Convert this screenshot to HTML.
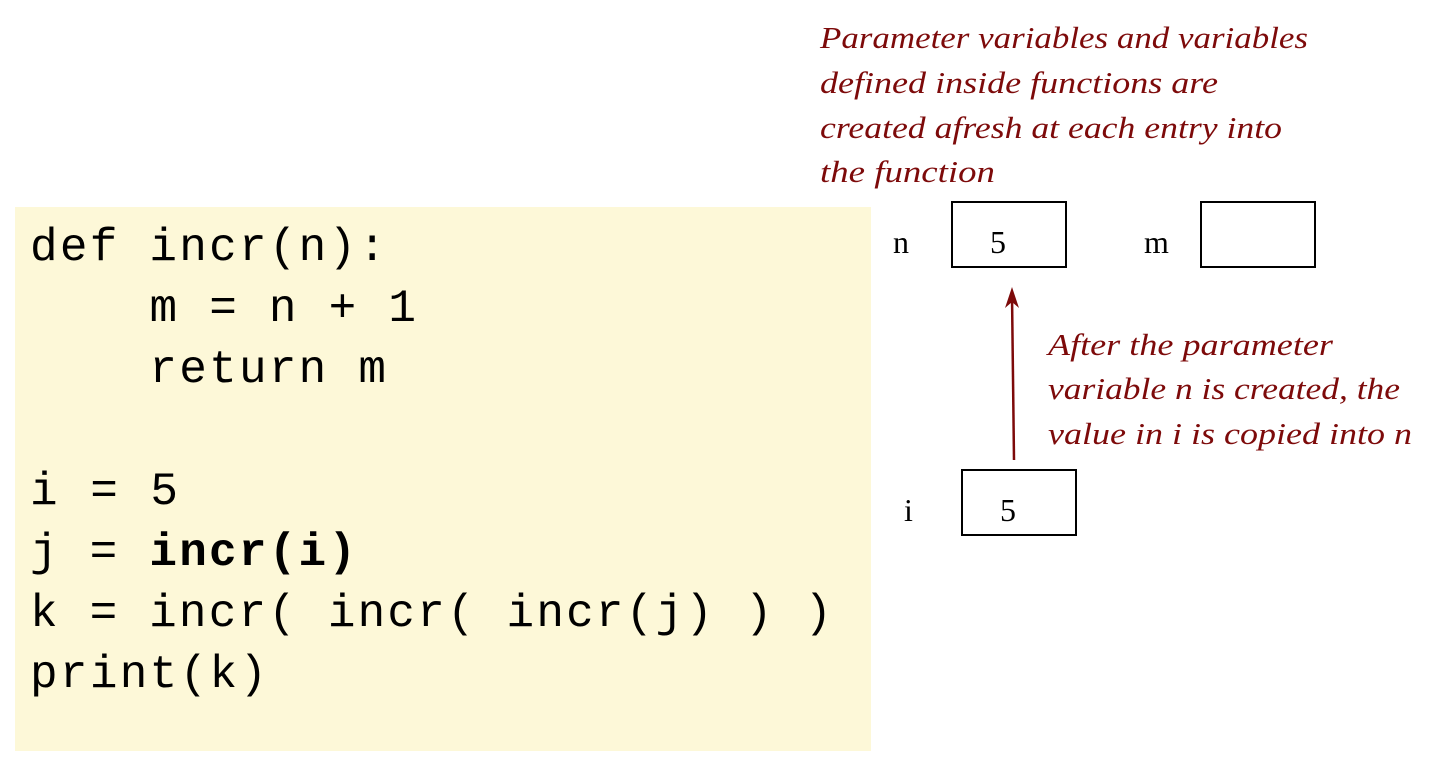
<!DOCTYPE html>
<html><head><style>
html,body{margin:0;padding:0;background:#fff;}
body{width:1452px;height:767px;position:relative;overflow:hidden;}
</style></head><body>
<svg width="1452" height="767" viewBox="0 0 1452 767" style="position:absolute;left:0;top:0">
<rect x="15" y="207" width="856" height="544" fill="#fdf8d8"/>
<g font-family="Liberation Mono, monospace" font-size="46" fill="#000" lengthAdjust="spacing">
<text x="30" y="260" xml:space="preserve" textLength="356" lengthAdjust="spacing">def incr(n):</text>
<text x="30" y="321" xml:space="preserve" textLength="386" lengthAdjust="spacing">    m = n + 1</text>
<text x="30" y="382" xml:space="preserve" textLength="356" lengthAdjust="spacing">    return m</text>
<text x="30" y="504" xml:space="preserve" textLength="148" lengthAdjust="spacing">i = 5</text>
<text x="30" y="565" xml:space="preserve" textLength="326" lengthAdjust="spacing">j = <tspan font-weight="bold">incr(i)</tspan></text>
<text x="30" y="626" xml:space="preserve" textLength="802" lengthAdjust="spacing">k = incr( incr( incr(j) ) )</text>
<text x="30" y="687" xml:space="preserve" textLength="237" lengthAdjust="spacing">print(k)</text>
</g>
<g font-family="Liberation Serif, serif" font-style="italic" font-size="31" fill="#7d0a0a">
<text x="820" y="48" textLength="488" lengthAdjust="spacingAndGlyphs">Parameter variables and variables</text>
<text x="820" y="93" textLength="398" lengthAdjust="spacingAndGlyphs">defined inside functions are</text>
<text x="820" y="138" textLength="462" lengthAdjust="spacingAndGlyphs">created afresh at each entry into</text>
<text x="820" y="182" textLength="175" lengthAdjust="spacingAndGlyphs">the function</text>
<text x="1048" y="355" textLength="285" lengthAdjust="spacingAndGlyphs">After the parameter</text>
<text x="1048" y="399" textLength="352" lengthAdjust="spacingAndGlyphs">variable n is created, the</text>
<text x="1048" y="444" textLength="364" lengthAdjust="spacingAndGlyphs">value in i is copied into n</text>
</g>
<g fill="none" stroke="#000" stroke-width="2">
<rect x="952" y="202" width="114" height="65"/>
<rect x="1201" y="202" width="114" height="65"/>
<rect x="962" y="470" width="114" height="65"/>
</g>
<g font-family="Liberation Serif, serif" font-size="32" fill="#000">
<text x="893" y="253">n</text>
<text x="1144" y="253">m</text>
<text x="904" y="521">i</text>
<text x="990" y="253">5</text>
<text x="1000" y="521">5</text>
</g>
<line x1="1014" y1="460" x2="1012" y2="295" stroke="#7d0a0a" stroke-width="2.5"/>
<path d="M1012 287 L1005 308 L1012 302 L1019 308 Z" fill="#7d0a0a"/>
</svg>
</body></html>
